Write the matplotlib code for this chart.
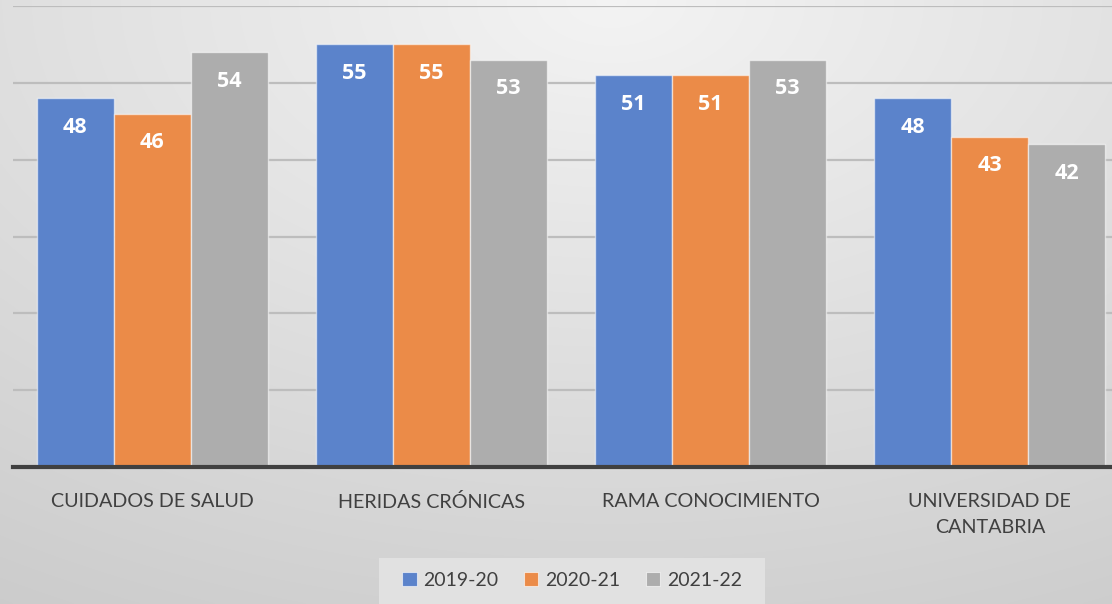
import numpy as np
import matplotlib
matplotlib.use("Agg")
import matplotlib.pyplot as plt
from matplotlib.patches import Rectangle

categories = ["CUIDADOS DE SALUD", "HERIDAS CRÓNICAS", "RAMA CONOCIMIENTO", "UNIVERSIDAD DE\nCANTABRIA"]
series_names = ["2019-20", "2020-21", "2021-22"]
values_2019 = [48, 55, 51, 48]
values_2020 = [46, 55, 51, 43]
values_2021 = [54, 53, 53, 42]
colors = ["#5B83CB", "#EB8B48", "#ADADAD"]

plt.rcParams['font.family'] = ['Lato', 'DejaVu Sans']

W, H = 1112, 604
fig = plt.figure(figsize=(W / 100, H / 100), dpi=100)

# background gradient
bg = fig.add_axes([0, 0, 1, 1], zorder=-10)
yy, xx = np.mgrid[0:1:300j, 0:1:550j]
d = np.sqrt(((xx - 0.55) * 1.1) ** 2 + ((yy - 0.0) * 1.0) ** 2)
val = 0.955 - 0.16 * np.clip(d, 0, 1.2) / 1.2
img = np.dstack([val, val, val])
bg.imshow(img, extent=[0, 1, 1, 0], aspect='auto', interpolation='bilinear')
bg.set_xlim(0, 1)
bg.set_ylim(1, 0)
bg.axis('off')

ax = fig.add_axes([12.5 / W, 137 / H, 1117 / W, 461 / H])
ax.patch.set_alpha(0)

x = np.arange(len(categories))
bw = 0.2757
all_vals = [values_2019, values_2020, values_2021]
for i, (vals, c, name) in enumerate(zip(all_vals, colors, series_names)):
    pos = x + (i - 1) * bw
    bars = ax.bar(pos, vals, width=bw, color=c, edgecolor=(1, 1, 1, 0.55),
                  linewidth=1.0, label=name, zorder=3)
    for b, v in zip(bars, vals):
        ax.annotate(str(v), (b.get_x() + b.get_width() / 2, v),
                    xytext=(0, -21), textcoords='offset points',
                    ha='center', va='center', color='white',
                    fontsize=15.5, fontweight='bold', family=['Open Sans', 'DejaVu Sans'],
                    zorder=4)

ax.set_xlim(-0.5, 3.5)
ax.set_ylim(0, 60)
ax.set_yticks(np.arange(0, 61, 10))
ax.yaxis.grid(True, color='#bdbdbd', linewidth=1.6, zorder=1)
ax.tick_params(axis='y', left=False, labelleft=False)
ax.tick_params(axis='x', bottom=False, pad=15, labelsize=14.2, labelcolor='#404040')
ax.set_xticks(x)
ax.set_xticklabels(categories, linespacing=1.7, va='top')
for s in ['top', 'right', 'left']:
    ax.spines[s].set_visible(False)
ax.spines['bottom'].set_color('#404040')
ax.spines['bottom'].set_linewidth(3)
ax.spines['bottom'].set_zorder(5)

# legend
leg_bg = Rectangle((379 / W, 0), (765 - 379) / W, 46 / H, transform=fig.transFigure,
                   facecolor='#e1e1e1', edgecolor='none', zorder=-5)
fig.patches.append(leg_bg)
handles = [Rectangle((0, 0), 1, 1, facecolor=c, edgecolor=(1, 1, 1, 0.6), linewidth=0.8) for c in colors]
leg = fig.legend(handles, series_names, loc='center', bbox_to_anchor=(572 / W, 24 / H),
                 ncol=3, frameon=False, fontsize=14, handlelength=0.75, handleheight=0.75,
                 handletextpad=0.35, columnspacing=1.3, labelcolor='#404040')

fig.savefig("out.png", dpi=100)
